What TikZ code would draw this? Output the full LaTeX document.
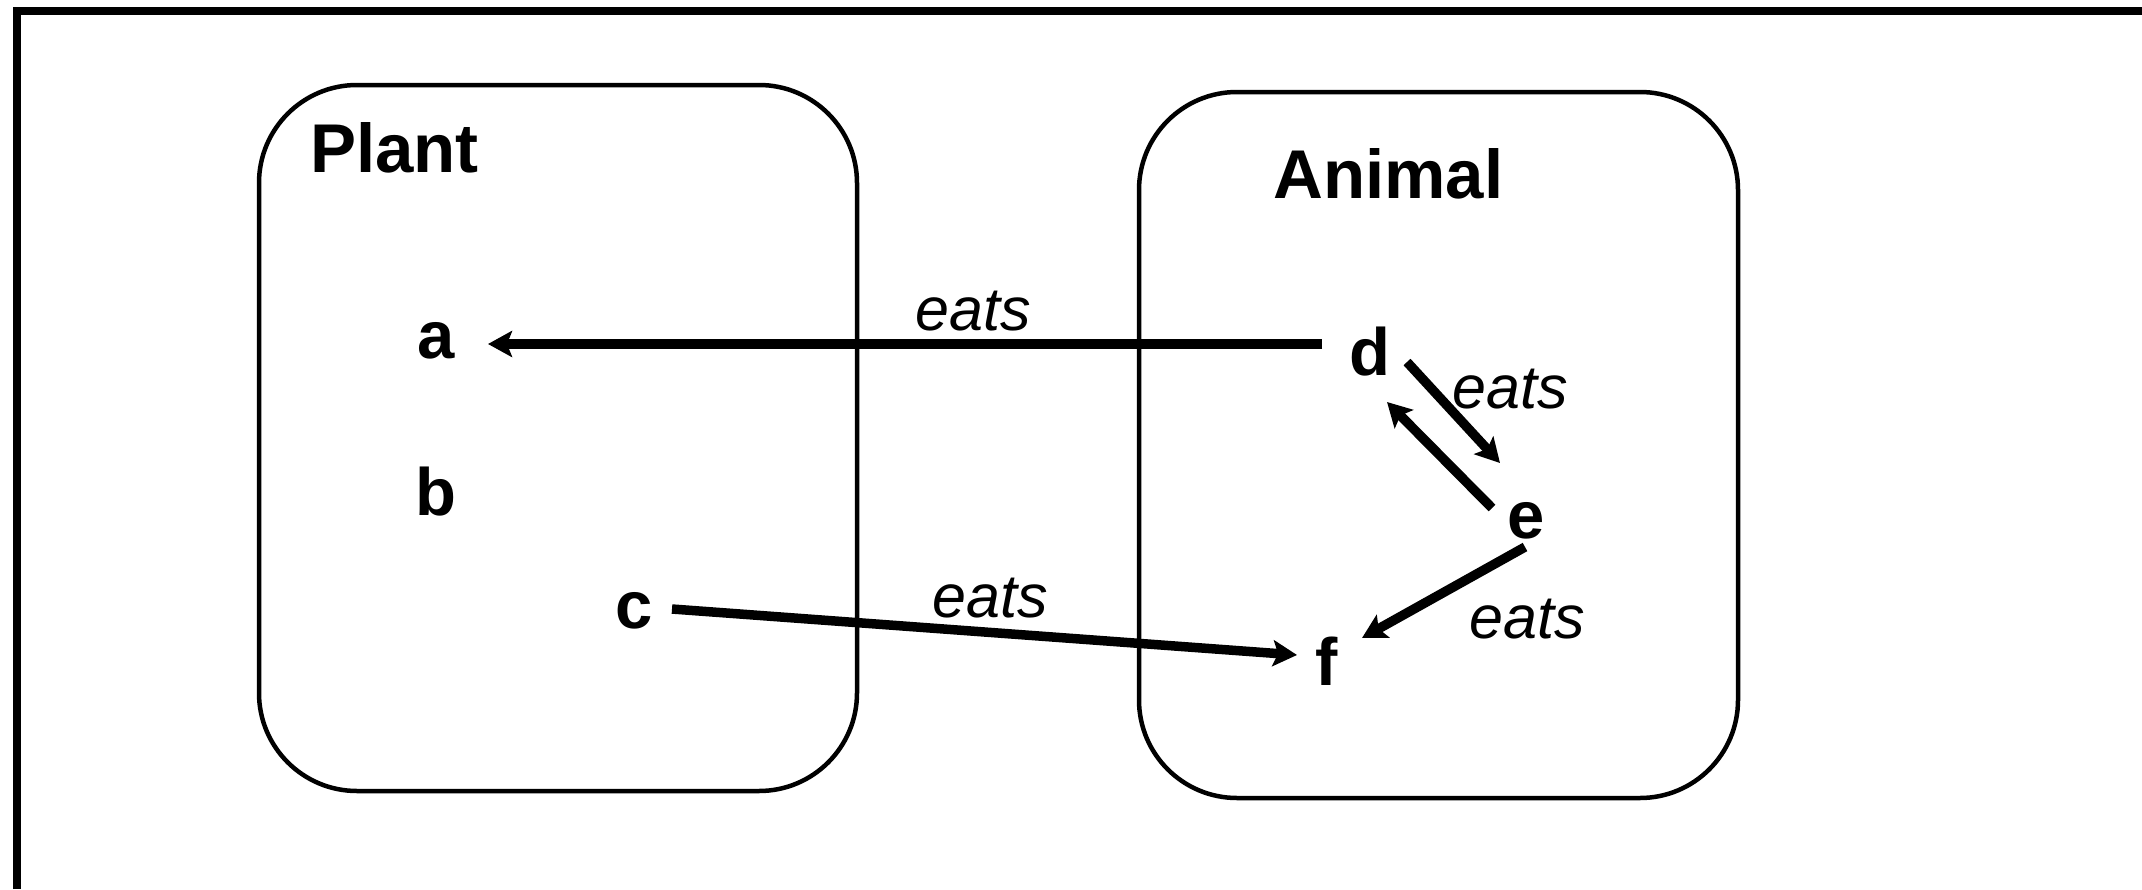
\documentclass[tikz,border=0pt]{standalone}
\usepackage{fontspec}
\setmainfont{Liberation Sans}
\usetikzlibrary{arrows.meta,calc}
\tikzset{
  frameline/.style={line width=7.3pt, line join=miter},
  setbox/.style={draw, line width=4.5pt, rounded corners=98pt, inner sep=0pt},
  title/.style={font=\fontsize{69}{82}\selectfont\bfseries, inner sep=0pt},
  elem/.style={font=\fontsize{67}{80}\selectfont\bfseries, inner sep=0pt},
  rel/.style={font=\fontsize{61}{73}\selectfont\itshape, inner sep=0pt},
  arr/.style={line width=9.5pt, -{Stealth[length=24pt,width=26pt,inset=5pt]}}
}
\begin{document}
\begin{tikzpicture}[x=1pt,y=-1pt]
\useasboundingbox (0,0) rectangle (2142,889);
% outer frame (left and top edges visible)
\draw[frameline] (17,889) -- (17,11) -- (2142,11);
% set boxes
\node[setbox, minimum width=598pt, minimum height=706pt] (plantbox) at (558,438) {};
\node[setbox, minimum width=599pt, minimum height=706pt] (animalbox) at (1438.5,445) {};
\node[title, anchor=base west] (plant) at (310,172) {Plant};
\node[title, anchor=base west] (animal) at (1273,198) {Animal};
% elements
\node[elem] (a) at (436,341) {a};
\node[elem] (b) at (436,492) {b};
\node[elem] (c) at (634,611) {c};
\node[elem] (d) at (1370,352) {d};
\node[elem] (e) at (1526,521) {e};
\node[elem] (f) at (1327,661) {f};
% relations
\draw[arr] ($(d.center)+(-48,-8)$) -- ($(a.center)+(52,3)$);
\draw[arr] ($(d.center)+(37,10)$) -- ($(e.center)+(-26,-58)$);
\draw[arr] ($(e.center)+(-34,-13)$) -- ($(d.center)+(17,50)$);
\draw[arr] ($(e.center)+(-1,26)$) -- ($(f.center)+(35,-23)$);
\draw[arr] ($(c.center)+(38,-2)$) -- ($(f.center)+(-30,-6)$);
% labels
\node[rel] (l1) at (973,311) {eats};
\node[rel] (l2) at (1510,389) {eats};
\node[rel] (l3) at (1527,619) {eats};
\node[rel] (l4) at (990,598) {eats};
\end{tikzpicture}
\end{document}
